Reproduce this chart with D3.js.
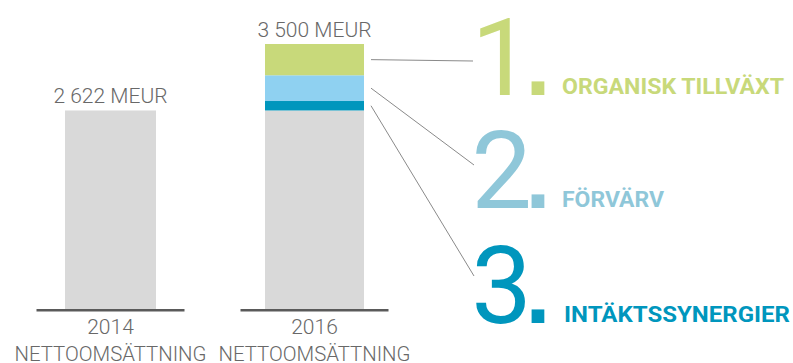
<!DOCTYPE html>
<html>
<head>
<meta charset="utf-8">
<script src="https://cdn.jsdelivr.net/npm/d3@7"></script>
<style>
  html, body { margin: 0; padding: 0; background: #fff; }
  svg { display: block; }
</style>
</head>
<body>
<svg id="chart" width="793" height="363"></svg>
<script>
// ---- data ----
const categories = ["2014", "2016"];
const totalLabels = ["2 622 MEUR", "3 500 MEUR"];
const axisSubLabel = "NETTOOMSÄTTNING";
const seriesKeys = ["bas", "intaktssynergier", "forvarv", "organisk"];
const baseValues = [2622, 2622];
const synergyValues = [0, 125];
const acquisitionValues = [0, 340];
const organicValues = [0, 413];
const driverNumbers = ["1", "2", "3"];
const driverNames = ["ORGANISK TILLVÄXT", "FÖRVÄRV", "INTÄKTSSYNERGIER"];
const driverKeys = ["organisk", "forvarv", "intaktssynergier"];

// ---- styles ----
const colors = {
  bas: "#d9d9d9",
  intaktssynergier: "#0096bd",
  forvarv: "#8fd1f1",
  organisk: "#c8d97a"
};
const driverColors = ["#c8d97a", "#8fc7d9", "#0096bd"];
const textGray = "#686868";

const svg = d3.select("#chart");

const rows = categories.map((c, i) => ({
  cat: c,
  bas: baseValues[i],
  intaktssynergier: synergyValues[i],
  forvarv: acquisitionValues[i],
  organisk: organicValues[i]
}));
const stacked = d3.stack().keys(seriesKeys)(rows);

const x = d3.scalePoint().domain(categories).range([110.5, 314.5]);
const y = d3.scaleLinear().domain([0, 3500]).range([309, 44]);
const barW = { "2014": 91, "2016": 99 };
const baseLineW = 148;

// bars
svg.append("g").selectAll("g")
  .data(stacked)
  .join("g")
  .attr("fill", d => colors[d.key])
  .selectAll("rect")
  .data(d => d.filter(s => s[1] - s[0] > 0))
  .join("rect")
  .attr("x", d => x(d.data.cat) - barW[d.data.cat] / 2)
  .attr("width", d => barW[d.data.cat])
  .attr("y", d => y(d[1]))
  .attr("height", d => y(d[0]) - y(d[1]));

// baselines
svg.append("g").selectAll("line")
  .data(categories)
  .join("line")
  .attr("x1", d => x(d) - baseLineW / 2)
  .attr("x2", d => x(d) + baseLineW / 2)
  .attr("y1", y(0) + 1.3)
  .attr("y2", y(0) + 1.3)
  .attr("stroke", "#5a5a5a")
  .attr("stroke-width", 2.6);

// total labels
const totals = rows.map(r => seriesKeys.reduce((s, k) => s + r[k], 0));
svg.append("g").selectAll("text")
  .data(categories)
  .join("text")
  .attr("x", d => x(d))
  .attr("y", (d, i) => y(totals[i]) - 7.5)
  .attr("text-anchor", "middle")
  .attr("font-family", "Roboto, 'Open Sans', sans-serif")
  .attr("font-weight", 300)
  .attr("font-size", 21)
  .attr("fill", textGray)
  .text((d, i) => totalLabels[i]);

// category labels
const catG = svg.append("g")
  .attr("font-family", "Roboto, 'Open Sans', sans-serif")
  .attr("font-weight", 300)
  .attr("fill", textGray)
  .attr("text-anchor", "middle");
catG.selectAll("text.year")
  .data(categories)
  .join("text")
  .attr("class", "year")
  .attr("x", d => x(d))
  .attr("y", 334)
  .attr("font-size", 21)
  .text(d => d);
catG.selectAll("text.sub")
  .data(categories)
  .join("text")
  .attr("class", "sub")
  .attr("x", d => x(d))
  .attr("y", 360.5)
  .attr("font-size", 20.5)
  .attr("textLength", 192)
  .attr("lengthAdjust", "spacingAndGlyphs")
  .text(axisSubLabel);

// drivers (annotation)
const numBaseline = [95, 208, 323];
const leaderEnd = [[473, 61], [474, 165], [474, 276]];
const nameX = [562, 562, 564];
const nameW = [222, 102, 226];

const s2016 = "2016";
const barRight = x(s2016) + barW[s2016] / 2;
const segMid = key => {
  const layer = stacked.find(l => l.key === key);
  const seg = layer[categories.indexOf(s2016)];
  return y((seg[0] + seg[1]) / 2);
};

svg.append("g").selectAll("line")
  .data(driverKeys)
  .join("line")
  .attr("x1", barRight + 7)
  .attr("y1", d => segMid(d))
  .attr("x2", (d, i) => leaderEnd[i][0])
  .attr("y2", (d, i) => leaderEnd[i][1])
  .attr("stroke", "#8a8a8a")
  .attr("stroke-width", 1);

const nums = svg.append("g").selectAll("text")
  .data(driverNumbers)
  .join("text")
  .attr("x", 550.5)
  .attr("y", (d, i) => numBaseline[i])
  .attr("text-anchor", "end")
  .attr("fill", (d, i) => driverColors[i]);
nums.append("tspan")
  .attr("font-family", "Roboto, sans-serif")
  .attr("font-weight", 400)
  .attr("font-size", 108)
  .text(d => d);
nums.append("tspan")
  .attr("dx", -6.5)
  .attr("font-family", "'Liberation Sans', Arial, sans-serif")
  .attr("font-weight", 700)
  .attr("font-size", 90)
  .text(".");

svg.append("g").selectAll("text")
  .data(driverNames)
  .join("text")
  .attr("x", (d, i) => nameX[i])
  .attr("y", (d, i) => numBaseline[i] - 1.5)
  .attr("font-family", "Roboto, sans-serif")
  .attr("font-weight", 700)
  .attr("font-size", 22.5)
  .attr("textLength", (d, i) => nameW[i])
  .attr("lengthAdjust", "spacingAndGlyphs")
  .attr("fill", (d, i) => driverColors[i])
  .text(d => d);
</script>
</body>
</html>
